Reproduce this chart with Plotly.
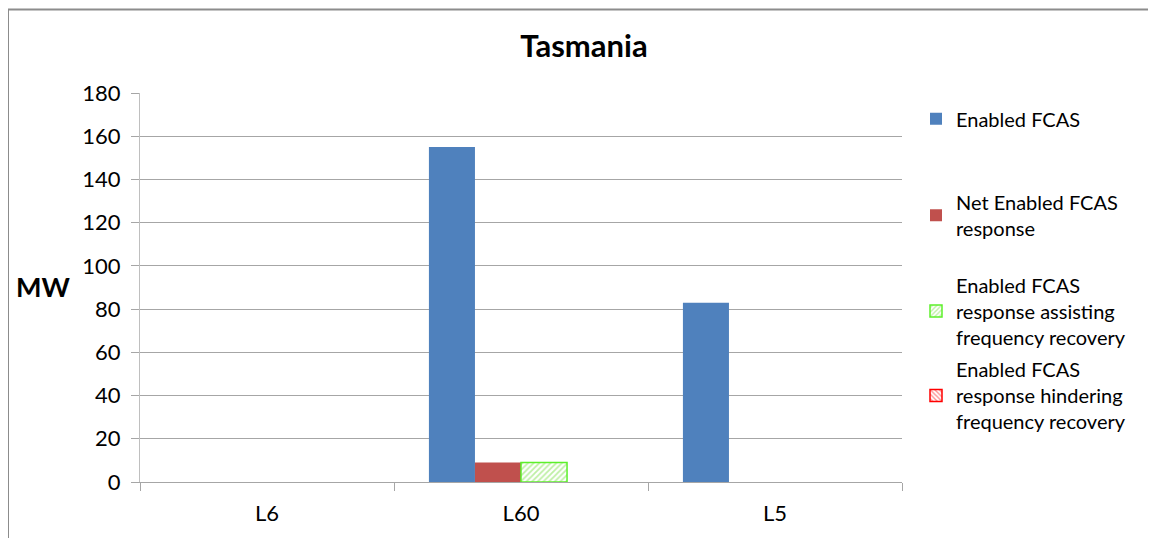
import plotly.graph_objects as go

categories = ["L6", "L60", "L5"]
enabled_fcas = [0, 155, 83]
net_enabled = [0, 9, 0]
assisting = [0, 9, 0]
hindering = [0, 0, 0]

series_names = [
    "Enabled FCAS",
    "Net Enabled FCAS<br>response",
    "Enabled FCAS<br>response assisting<br>frequency recovery",
    "Enabled FCAS<br>response hindering<br>frequency recovery",
]

FONT = "Lato, 'Open Sans', sans-serif"
OFF = 8  # page body margin offset
W, H = 1156 - OFF, 538 - OFF
L, R, T, B = 140 - OFF, 902 - OFF, 93 - OFF, 484 - OFF  # plot area in figure px


def px_x(x):
    return (x - OFF - L) / (R - L)


def px_y(y):
    return (B - (y - OFF)) / (B - T)


def visible_opacity(values):
    # hide the outline of zero-height bars (Excel draws nothing there)
    return [1 if v else 0 for v in values]


fig = go.Figure()
fig.add_trace(go.Bar(x=categories, y=enabled_fcas, name=series_names[0],
                     marker=dict(color="#4F81BD", line=dict(width=0)),
                     legend="legend"))
fig.add_trace(go.Bar(x=categories, y=net_enabled, name=series_names[1],
                     marker=dict(color="#C0504D", line=dict(width=0)),
                     legend="legend2"))
fig.add_trace(go.Bar(x=categories, y=assisting, name=series_names[2],
                     marker=dict(color="white", opacity=visible_opacity(assisting),
                                 line=dict(color="#5CF02A", width=1.5),
                                 pattern=dict(shape="/", fgcolor="#7EE04A",
                                              bgcolor="white", size=4, solidity=0.45)),
                     legend="legend3"))
fig.add_trace(go.Bar(x=categories, y=hindering, name=series_names[3],
                     marker=dict(color="white", opacity=visible_opacity(hindering),
                                 line=dict(color="#FF0000", width=1.5),
                                 pattern=dict(shape="\\", fgcolor="#FF2020",
                                              bgcolor="white", size=4, solidity=0.45)),
                     legend="legend4"))

leg_common = dict(xanchor="left", yanchor="middle", bgcolor="rgba(0,0,0,0)",
                  font=dict(family=FONT, size=20, color="#000"),
                  itemwidth=30, tracegroupgap=0, visible=True)
lx = px_x(916)

fig.update_layout(
    width=W, height=H,
    showlegend=True,
    margin=dict(l=L, r=W - R, t=T, b=H - B, pad=0),
    paper_bgcolor="white", plot_bgcolor="white",
    barmode="group", bargap=0.275, bargroupgap=0,
    font=dict(family=FONT, size=22, color="#000"),
    title=dict(text="<b>Tasmania</b>", x=px_x(584), xref="paper", xanchor="center",
               y=1 - (46 - OFF) / H, yanchor="middle",
               font=dict(family=FONT, size=31, color="#000")),
    legend=dict(x=lx, y=px_y(119), **leg_common),
    legend2=dict(x=lx, y=px_y(216), **leg_common),
    legend3=dict(x=lx, y=px_y(312), **leg_common),
    legend4=dict(x=lx, y=px_y(397), **leg_common),
    xaxis=dict(type="category", tickson="boundaries", ticks="outside", ticklen=8,
               tickcolor="#A6A6A6", showline=True, linecolor="#A6A6A6", linewidth=1,
               showgrid=False, ticklabelstandoff=12,
               tickfont=dict(family=FONT, size=22, color="#000")),
    yaxis=dict(range=[0, 180], dtick=20, ticks="outside", ticklen=8,
               tickcolor="#A6A6A6", showline=True, linecolor="#BFBFBF", linewidth=1,
               showgrid=True, gridcolor="#A6A6A6", gridwidth=1, zeroline=False,
               ticklabelstandoff=6,
               tickfont=dict(family=FONT, size=22, color="#000")),
    annotations=[dict(text="<b>MW</b>", x=px_x(43), y=px_y(287), xref="paper", yref="paper",
                      showarrow=False, xanchor="center", yanchor="middle",
                      font=dict(family=FONT, size=27, color="#000"))],
    shapes=[dict(type="rect", xref="paper", yref="paper",
                 x0=px_x(8), x1=px_x(1170), y0=px_y(560), y1=px_y(9),
                 line=dict(color="#8C8C8C", width=2), fillcolor="rgba(0,0,0,0)",
                 layer="below")],
)

fig.write_html("out.html")
